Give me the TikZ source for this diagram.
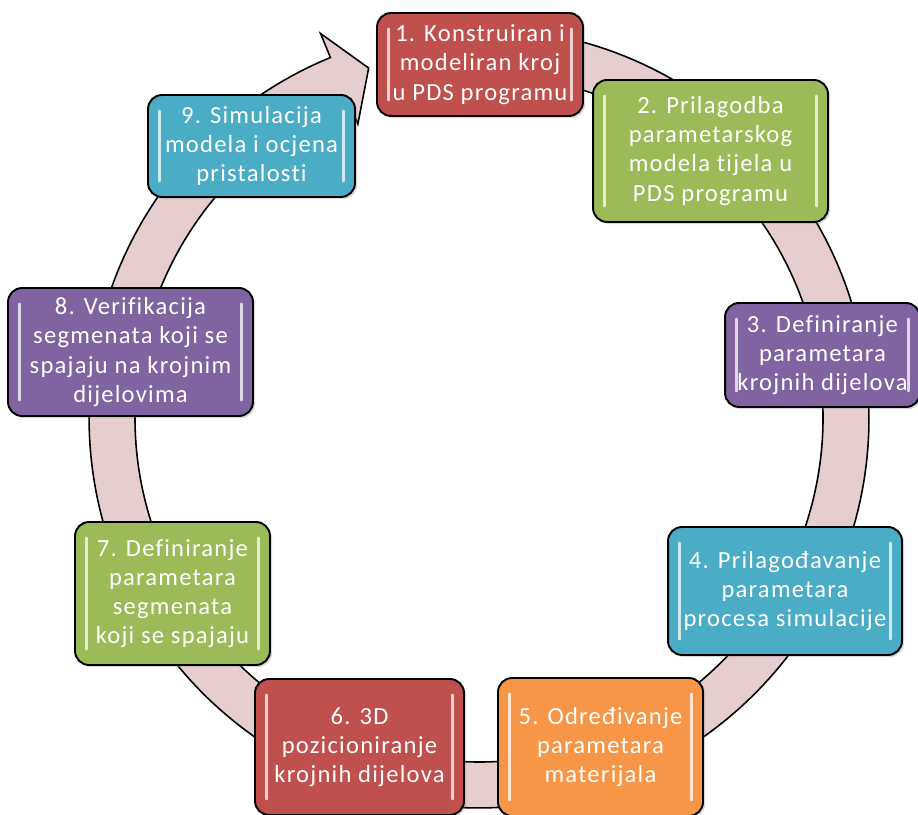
\documentclass[tikz,border=0pt]{standalone}
\usepackage{fontspec}
\setmainfont{Carlito}[LetterSpace=5, Ligatures={NoCommon}]
\usepackage{tikz}
\usetikzlibrary{shadows}
\definecolor{boxred}{RGB}{192,80,77}
\definecolor{boxgreen}{RGB}{155,187,89}
\definecolor{boxpurple}{RGB}{128,100,162}
\definecolor{boxblue}{RGB}{75,172,198}
\definecolor{boxorange}{RGB}{247,150,70}
\definecolor{ringpink}{RGB}{230,206,207}

\begin{document}
\begin{tikzpicture}
  [
    x=0.02cm, y=0.02cm,
    Ring/.style={draw=black, line width=0.9pt, fill=ringpink},
    Box/.style={rectangle, rounded corners=8pt, draw=black, line width=1.1pt, text=white, align=center,
      font=\fontsize{14}{16.6}\selectfont, inner sep=0pt,
      drop shadow={shadow xshift=1.2pt, shadow yshift=-1.2pt, opacity=0.3},
      path picture={
        \draw[white, line width=1.4pt, opacity=0.75, line cap=round]
          ([xshift=6.5pt, yshift=-9pt]path picture bounding box.north west) -- ([xshift=6.5pt, yshift=9pt]path picture bounding box.south west)
          ([xshift=-6.5pt, yshift=-9pt]path picture bounding box.north east) -- ([xshift=-6.5pt, yshift=9pt]path picture bounding box.south east);
      }},
    Red/.style={Box, fill=boxred},
    Green/.style={Box, fill=boxgreen},
    Purple/.style={Box, fill=boxpurple},
    Blue/.style={Box, fill=boxblue},
    Orange/.style={Box, fill=boxorange}
  ]
  \useasboundingbox (0,0) rectangle (918,814);

  % Ring
  \coordinate (c) at (479,396);
  \path[Ring] ([shift={(95:7.8cm)}]c) arc[start angle=95, end angle=-247.6, radius=7.8cm]
    -- ([shift={(112.4:8.32cm)}]c) -- ([shift={(107.5:7.34cm)}]c) -- ([shift={(112.4:6.36cm)}]c)
    -- ([shift={(112.4:6.88cm)}]c) arc[start angle=-247.6, end angle=95, radius=6.88cm] -- cycle;

  % Nodes
  \node[Red, minimum width=4.12cm, minimum height=2.06cm] (s1) at(480, 749.5) {1. Konstruiran i\\ modeliran kroj\\ u PDS programu};

  \node[Green, minimum width=4.7cm, minimum height=2.84cm] (s2) at(710.5, 663) {2. Prilagodba\\ parametarskog\\ modela tijela u\\ PDS programu};

  \node[Purple, minimum width=3.9cm, minimum height=2.08cm] (s3) at(822.5, 459) {3. Definiranje\\ parametara\\ krojnih dijelova};

  \node[Blue, minimum width=4.68cm, minimum height=2.56cm] (s4) at(785, 223) {4. Prilagođavanje\\ parametara\\ procesa simulacije};

  \node[Orange, minimum width=4.1cm, minimum height=2.76cm] (s5) at(600.5, 67) {5. Određivanje\\ parametara\\ materijala};

  \node[Red, minimum width=4.18cm, minimum height=2.72cm] (s6) at(359.5, 67) {6. 3D\\ pozicioniranje\\ krojnih dijelova};

  \node[Green, minimum width=3.9cm, minimum height=2.86cm] (s7) at(172.5, 220.5) {7. Definiranje\\ parametara\\ segmenata\\ koji se spajaju};

  \node[Purple, minimum width=4.9cm, minimum height=2.56cm] (s8) at(130.5, 462) {8. Verifikacija\\ segmenata koji se\\ spajaju na krojnim\\ dijelovima};

  \node[Blue, minimum width=4.14cm, minimum height=2.04cm] (s9) at(251.5, 668) {9. Simulacija\\ modela i ocjena\\ pristalosti};

\end{tikzpicture}
\end{document}
